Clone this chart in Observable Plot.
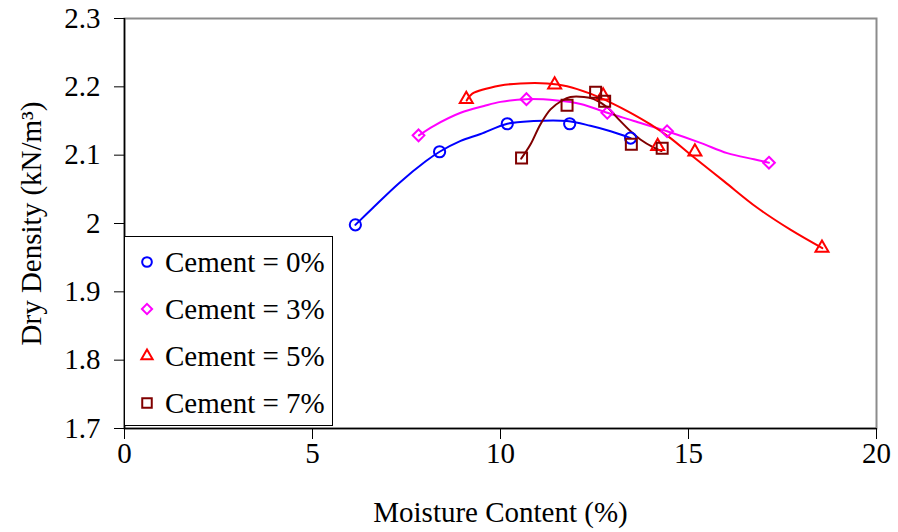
<!DOCTYPE html>
<html>
<head>
<meta charset="utf-8">
<script src="https://cdn.jsdelivr.net/npm/d3@7"></script>
<script src="https://cdn.jsdelivr.net/npm/@observablehq/plot@0.6"></script>
<style>
  body { margin: 0; background: #fff; }
  #chart { position: relative; width: 898px; height: 532px; }
</style>
</head>
<body>
<div id="chart"></div>
<script>
// Compaction curves: dry density vs. moisture content for four cement contents
const seriesNames = ["Cement = 0%", "Cement = 3%", "Cement = 5%", "Cement = 7%"];
const seriesColors = ["#0000ff", "#ff00ff", "#ff0000", "#800000"];
const seriesSymbols = ["circle", "diamond2", "triangle2", "square2"];
const seriesRadius = [5.6, 5.3, 6.2, 7.0];

// Test points (moisture %, dry density)
const c0Moisture = [6.14, 8.38, 10.18, 11.84, 13.46];
const c0Density  = [1.998, 2.105, 2.146, 2.146, 2.125];
const c3Moisture = [7.82, 10.69, 12.84, 14.43, 17.14];
const c3Density  = [2.129, 2.182, 2.162, 2.135, 2.089];
const c5Moisture = [9.09, 11.44, 12.73, 14.18, 15.17, 18.55];
const c5Density  = [2.182, 2.203, 2.187, 2.113, 2.105, 1.964];
const c7Moisture = [10.56, 11.77, 12.53, 12.77, 13.48, 14.30];
const c7Density  = [2.096, 2.173, 2.192, 2.179, 2.116, 2.110];

// Fitted compaction curves
const c0CurveX = [6.14, 6.59, 7.30, 8.01, 8.38, 8.94, 9.47, 10.18, 10.88, 11.77, 12.39, 12.93, 13.46];
const c0CurveY = [1.998, 2.022, 2.059, 2.091, 2.105, 2.121, 2.131, 2.146, 2.150, 2.150, 2.143, 2.135, 2.125];
const c3CurveX = [7.83, 8.23, 8.94, 9.56, 10.0, 10.69, 11.51, 12.13, 12.84, 13.55, 14.43, 15.32, 16.03, 16.74, 17.14];
const c3CurveY = [2.129, 2.143, 2.162, 2.172, 2.178, 2.182, 2.180, 2.175, 2.162, 2.150, 2.135, 2.118, 2.103, 2.094, 2.089];
const c5CurveX = [9.10, 9.25, 10.0, 10.53, 11.24, 11.77, 12.39, 12.93, 13.46, 13.99, 14.52, 15.05, 15.94, 16.83, 17.71, 18.56];
const c5CurveY = [2.180, 2.190, 2.202, 2.205, 2.205, 2.201, 2.190, 2.177, 2.162, 2.145, 2.125, 2.101, 2.062, 2.023, 1.991, 1.964];
const c7CurveX = [10.55, 10.80, 11.06, 11.33, 11.64, 11.86, 12.22, 12.48, 12.84, 13.10, 13.46, 13.72, 14.08, 14.28];
const c7CurveY = [2.095, 2.116, 2.145, 2.167, 2.180, 2.185, 2.185, 2.182, 2.170, 2.155, 2.135, 2.123, 2.111, 2.106];

const xTicks = [0, 5, 10, 15, 20];
const yTicks = [1.7, 1.8, 1.9, 2, 2.1, 2.2, 2.3];

const toRows = (xs, ys) => xs.map((x, i) => ({x, y: ys[i]}));
const points = [
  toRows(c0Moisture, c0Density), toRows(c3Moisture, c3Density),
  toRows(c5Moisture, c5Density), toRows(c7Moisture, c7Density)
];
const curves = [
  toRows(c0CurveX, c0CurveY), toRows(c3CurveX, c3CurveY),
  toRows(c5CurveX, c5CurveY), toRows(c7CurveX, c7CurveY)
];

const font = "'Liberation Serif', 'Times New Roman', serif";

const chart = Plot.plot({
  width: 898,
  height: 532,
  marginLeft: 124,
  marginRight: 22,
  marginTop: 18,
  marginBottom: 104,
  style: {fontFamily: font, fontSize: "29px", color: "#000", background: "#fff", overflow: "visible"},
  x: {domain: [0, 20]},
  y: {domain: [1.7, 2.3]},
  marks: [
    Plot.frame({stroke: "#8c8c8c", strokeWidth: 2}),
    ...curves.map((c, i) => Plot.line(c, {x: "x", y: "y", stroke: seriesColors[i], strokeWidth: 2, curve: "catmull-rom"})),
    ...points.map((p, i) => Plot.dot(p, {x: "x", y: "y", symbol: () => seriesSymbols[i], r: seriesRadius[i], stroke: seriesColors[i], strokeWidth: 2, fill: "none"})),
    Plot.ruleX([0], {stroke: "#000", strokeWidth: 1.5}),
    Plot.ruleY([1.7], {stroke: "#000", strokeWidth: 1.5}),
    Plot.axisX({ticks: xTicks, tickFormat: d => String(d), tickSize: 11, tickPadding: 3,
      label: "Moisture Content (%)", labelAnchor: "center", labelOffset: 93, labelArrow: "none"}),
    Plot.axisY({ticks: yTicks, tickFormat: d => String(d), tickSize: 10, tickPadding: 14,
      label: "Dry Density (kN/m³)", labelAnchor: "center", labelOffset: 104, labelArrow: "none"})
  ]
});

document.getElementById("chart").appendChild(chart);

// Legend box drawn inside the plot's SVG, bottom-left corner
const svg = d3.select(chart);
const legend = svg.append("g").attr("transform", "translate(124,236)");
legend.append("rect")
  .attr("x", 0.5).attr("y", 0.5).attr("width", 208).attr("height", 189)
  .attr("fill", "#fff").attr("stroke", "#000").attr("stroke-width", 1);
const d3Symbols = {circle: d3.symbolCircle, diamond2: d3.symbolDiamond2, triangle2: d3.symbolTriangle2, square2: d3.symbolSquare2};
seriesNames.forEach((name, i) => {
  const cy = 26 + i * 47;
  legend.append("path")
    .attr("transform", `translate(23,${cy})`)
    .attr("d", d3.symbol(d3Symbols[seriesSymbols[i]], Math.PI * seriesRadius[i] ** 2 * 0.75)())
    .attr("fill", "none").attr("stroke", seriesColors[i]).attr("stroke-width", 2);
  legend.append("text")
    .attr("x", 41).attr("y", cy).attr("dy", "0.35em")
    .attr("text-anchor", "start")
    .attr("font-family", font).attr("font-size", 29).attr("fill", "#000")
    .text(name);
});
</script>
</body>
</html>
